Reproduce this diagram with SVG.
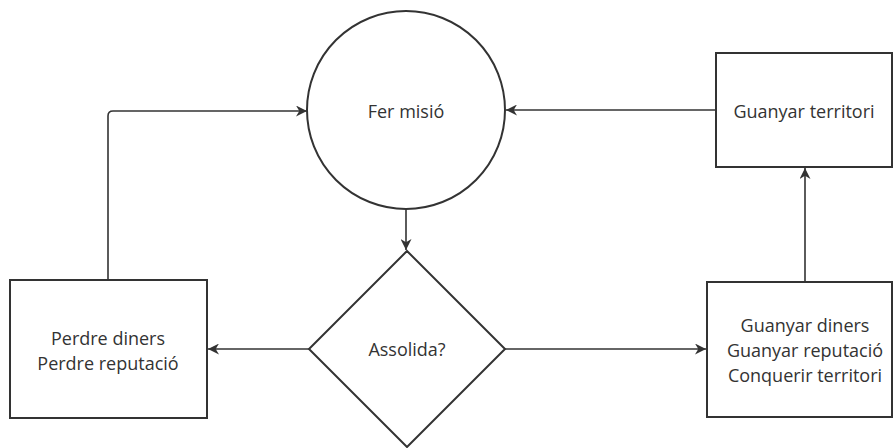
<svg xmlns="http://www.w3.org/2000/svg" width="893" height="448" viewBox="0 0 893 448">
<style>
.shape{fill:#fff;stroke:#333;stroke-width:2}
.edge{fill:none;stroke:#333;stroke-width:1.6}
text{font-family:"Open Sans","Noto Sans",sans-serif;font-size:18px;fill:#333;text-anchor:middle;dominant-baseline:central}
</style>
<defs>
<marker id="arr" viewBox="0 0 10 10" refX="10" refY="5" markerWidth="11" markerHeight="11" markerUnits="userSpaceOnUse" orient="auto">
<path d="M0,0 L10,5 L0,10 L3,5 Z" fill="#333"/>
</marker>
</defs>
<g id="connectors">
<path class="edge" d="M406,210 V250" marker-end="url(#arr)"/>
<path class="edge" d="M309,349 H208" marker-end="url(#arr)"/>
<path class="edge" d="M505,349 H706" marker-end="url(#arr)"/>
<path class="edge" d="M108,280 V116 Q108,111 113,111 H307" marker-end="url(#arr)"/>
<path class="edge" d="M716,110 H506" marker-end="url(#arr)"/>
<path class="edge" d="M805,282 V168" marker-end="url(#arr)"/>
</g>
<g id="fer-misio">
<circle class="shape" cx="406" cy="110" r="99"/>
<text x="406" y="111">Fer misió</text>
</g>
<g id="assolida">
<polygon class="shape" points="407,251 505,349 407,447 309,349"/>
<text x="407" y="349">Assolida?</text>
</g>
<g id="perdre">
<rect class="shape" x="10" y="280" width="197" height="138"/>
<text x="108" y="338">Perdre diners</text>
<text x="108" y="363">Perdre reputació</text>
</g>
<g id="guanyar-territori">
<rect class="shape" x="716" y="53" width="176" height="114"/>
<text x="804" y="111">Guanyar territori</text>
</g>
<g id="guanyar">
<rect class="shape" x="707" y="282" width="185" height="135"/>
<text x="805" y="325">Guanyar diners</text>
<text x="805" y="350">Guanyar reputació</text>
<text x="805" y="375">Conquerir territori</text>
</g>
</svg>
